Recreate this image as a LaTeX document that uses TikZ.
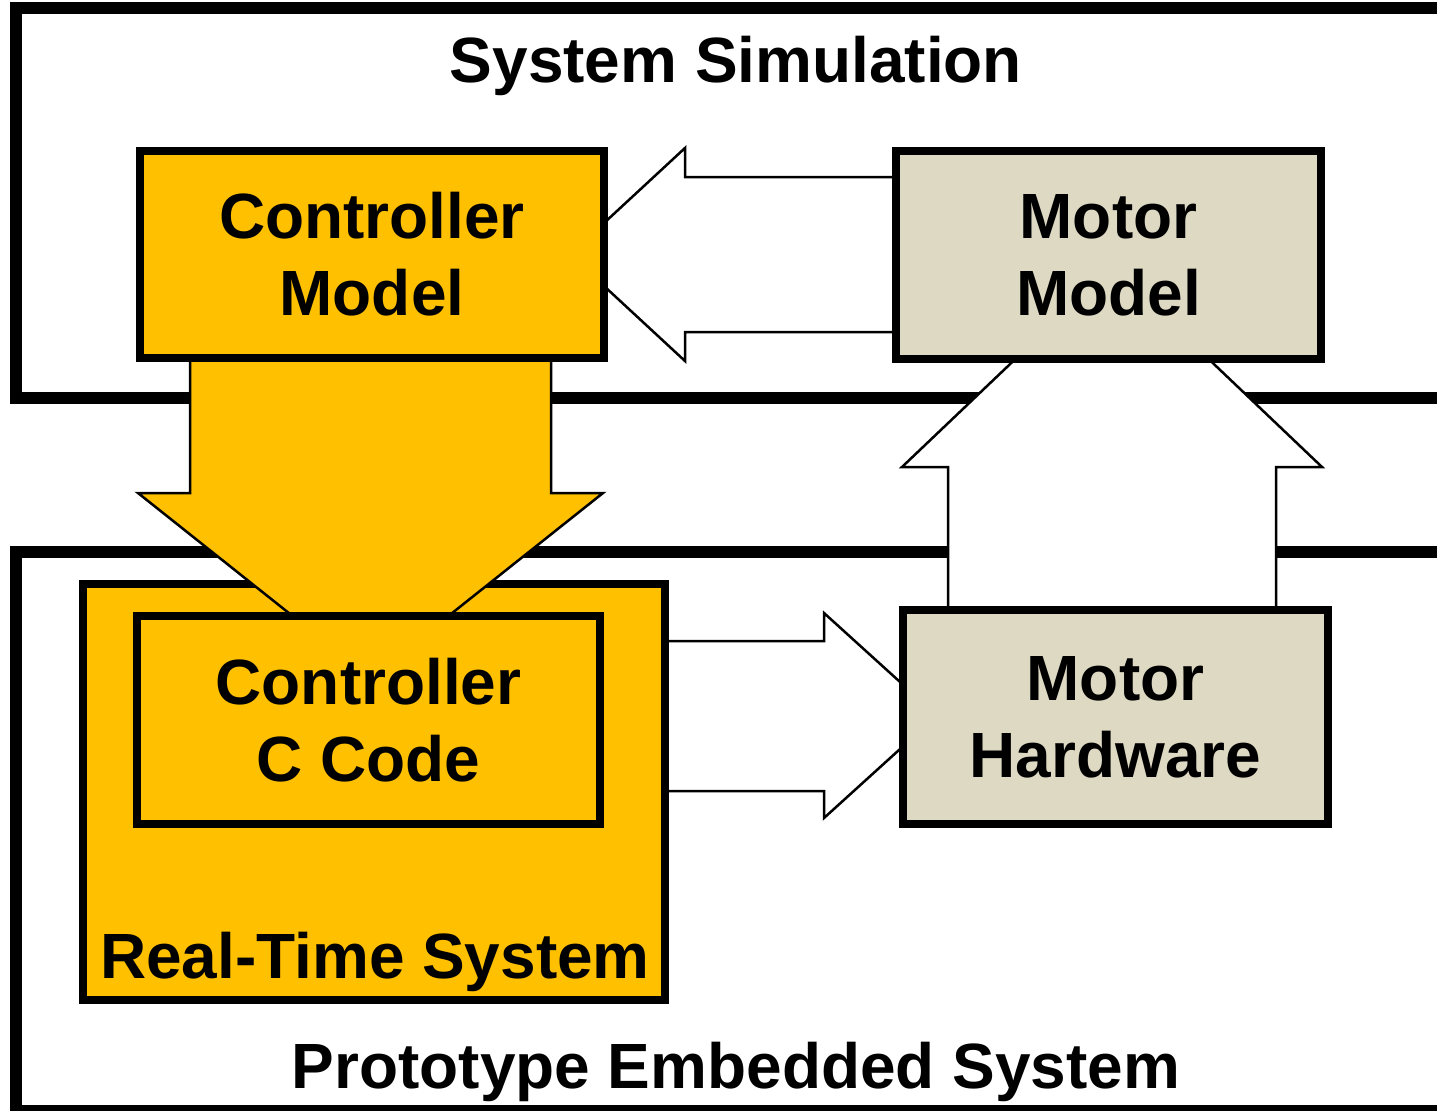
\documentclass[tikz,border=0pt]{standalone}
\usepackage{fontspec}
\setmainfont{Liberation Sans}
\newcommand\lblfont{\fontsize{36.4pt}{43.8pt}\selectfont\bfseries}
\definecolor{goldfill}{HTML}{FFC000}
\definecolor{tanfill}{HTML}{DDD9C3}
\pgfdeclarelayer{frames}
\pgfdeclarelayer{low}
\pgfdeclarelayer{mid}
\pgfdeclarelayer{high}
\pgfsetlayers{frames,low,mid,high,main}
\begin{document}
\begin{tikzpicture}[x=0.02cm,y=-0.02cm,
  box/.style={draw=black,line width=0.16cm,inner sep=0pt,outer sep=0pt,font=\lblfont,align=center,line join=miter},
  lowered/.style={execute at begin node={\rule{0pt}{30pt}}},
  frameline/.style={draw=black,line width=0.24cm,line join=miter},
  fatarrow/.style={draw=black,line width=0.05cm,line join=miter,miter limit=10},
  title/.style={font=\lblfont,anchor=base,inner sep=0pt}]
\useasboundingbox (0,0) rectangle (1437,1110);
\clip (0,0) rectangle (1437,1110);

% boxes (main layer)
\node[box,lowered,fill=goldfill,minimum width=9.28cm,minimum height=4.14cm] (cm) at (372,254.5) {Controller\\Model};
\node[box,lowered,fill=tanfill,minimum width=8.5cm,minimum height=4.16cm] (mm) at (1108.5,255) {Motor\\Model};
\node[box,lowered,fill=goldfill,minimum width=9.26cm,minimum height=4.16cm] (cc) at (368.5,720) {Controller\\C Code};
\node[box,lowered,fill=tanfill,minimum width=8.5cm,minimum height=4.28cm] (mh) at (1115.5,717) {Motor\\Hardware};
\node[title] (rtslabel) at (375,978) {Real-Time System};
\node[title] (sstitle) at (736,82) {System Simulation};
\node[title] (pestitle) at (736,1088) {Prototype Embedded System};

\begin{pgfonlayer}{mid}
\node[box,fill=goldfill,minimum width=11.64cm,minimum height=8.32cm] (rts) at (374,792) {};
\end{pgfonlayer}

\begin{pgfonlayer}{high}
% down arrow: Controller Model -> Controller C Code
\draw[fatarrow,fill=goldfill] (cm.south -| 190,0) -- (190,493) -- (138,493) -- (370.5,678) -- (603,493) -- (551,493) -- (cm.south -| 551,0) -- cycle;
% up arrow: Motor Hardware -> Motor Model
\draw[fatarrow,fill=white] (mh.north -| 948,0) -- (948,467) -- (902,467) -- (1112,267) -- (1322,467) -- (1276,467) -- (mh.north -| 1276,0) -- cycle;
% left arrow: Motor Model -> Controller Model
\draw[fatarrow,fill=white] (mm.west |- 0,177) -- (685,177) -- (685,148) -- (570,254.5) -- (685,361) -- (685,332) -- (mm.west |- 0,332) -- cycle;
\end{pgfonlayer}

\begin{pgfonlayer}{low}
% right arrow: Real-Time System -> Motor Hardware
\draw[fatarrow,fill=white] (rts.east |- 0,641) -- (824,641) -- (824,613) -- (937,715.5) -- (824,818) -- (824,791) -- (rts.east |- 0,791) -- cycle;
\end{pgfonlayer}

\begin{pgfonlayer}{frames}
\draw[frameline] (1460,8) -- (16,8) -- (16,398) -- (1460,398);
\draw[frameline] (1460,552) -- (16,552) -- (16,1111) -- (1460,1111);
\end{pgfonlayer}
\end{tikzpicture}
\end{document}
